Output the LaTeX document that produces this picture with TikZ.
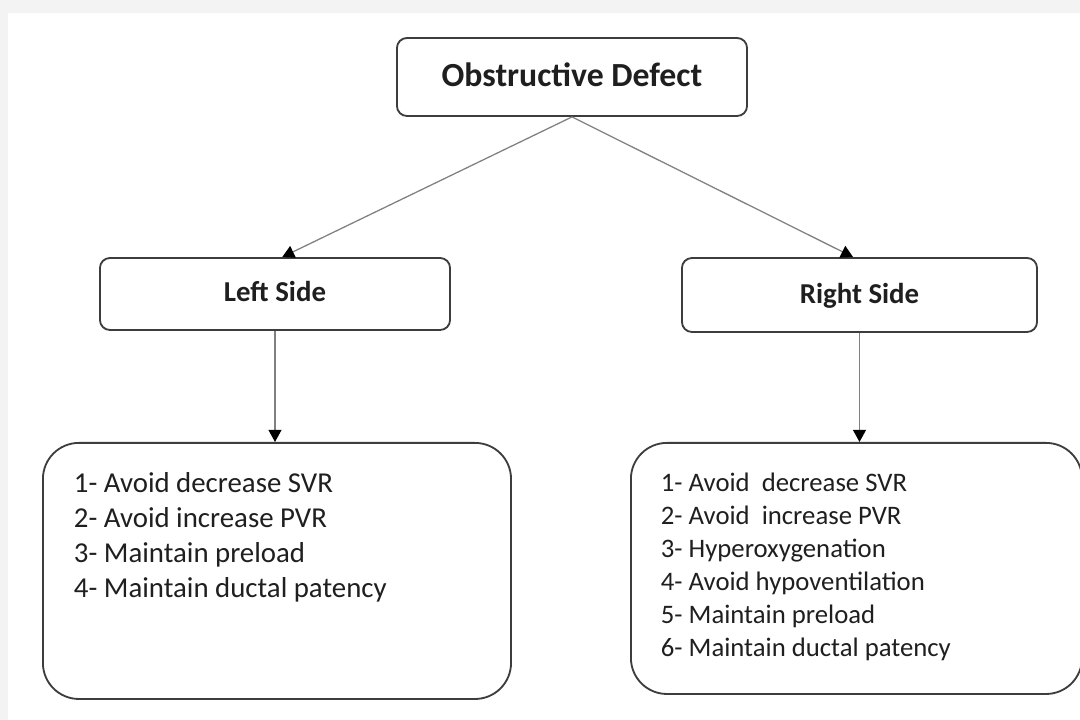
\documentclass[tikz,border=0pt]{standalone}
\usepackage{fontspec}
\setmainfont{Carlito}
\usetikzlibrary{arrows.meta}

\definecolor{FrameColor}{rgb}{0.953,0.953,0.953}
\definecolor{BorderColor}{rgb}{0.24,0.24,0.24}
\definecolor{LinkColor}{rgb}{0.5,0.5,0.5}
\definecolor{TextColor}{rgb}{0.12,0.12,0.12}
\tikzstyle{base}=[rectangle,
                    draw=BorderColor,
                    line width=1.3pt,
                    fill=white,
                    text=TextColor,
                    rounded corners=0.25cm]
\tikzstyle{heading}=[base, text depth=0.3em, font=\bfseries\fontsize{20.5}{24}\selectfont]
\tikzstyle{listing}=[base, anchor=north west, rounded corners=0.9cm]
\tikzstyle{link}=[draw=LinkColor, line width=0.9pt,
                    -{Triangle[width=0.32cm, length=0.3cm, color=black]}]

\begin{document}
\begin{tikzpicture}[x=0.025cm, y=-0.025cm]
    \useasboundingbox (0,0) rectangle (1080,720);
    \fill[FrameColor] (0,0)  rectangle (1080,720);
    \fill[white]      (8,13) rectangle (1080,720);

    \node at (572.0,  77) (defect)     [heading, minimum width=8.75cm, minimum height=1.95cm,
                                        font=\bfseries\fontsize{24}{28}\selectfont] {Obstructive Defect};
    \node at (275.0, 294) (left_side)  [heading, minimum width=8.75cm, minimum height=1.8cm]   {Left Side};
    \node at (859.5, 295) (right_side) [heading, minimum width=8.875cm, minimum height=1.85cm] {Right Side};
    \node at ( 42.0, 442) (left_list)  [listing, inner xsep=0.775cm, inner ysep=0.75cm,
                                        font=\fontsize{20.5}{24.9}\selectfont]
        {\begin{minipage}[t][4.9cm][t]{10.15cm}
         1- Avoid decrease SVR\\
         2- Avoid increase PVR\\
         3- Maintain preload\\
         4- Maintain ductal patency
         \end{minipage}};
    \node at (630.0, 442) (right_list) [listing, inner xsep=0.75cm, inner ysep=0.75cm,
                                        font=\fontsize{19}{23.5}\selectfont]
        {\begin{minipage}[t][4.775cm][t]{9.775cm}
         1- Avoid\ \ decrease SVR\\
         2- Avoid\ \ increase PVR\\
         3- Hyperoxygenation\\
         4- Avoid hypoventilation\\
         5- Maintain preload\\
         6- Maintain ductal patency
         \end{minipage}};

     \draw[link] (defect.south)     -- ([xshift=0.18cm]left_side.north);
     \draw[link] (defect.south)     -- ([xshift=-0.16cm]right_side.north);
     \draw[link] (left_side.south)  -- (left_side.south |- left_list.north);
     \draw[link] (right_side.south) -- (right_side.south |- right_list.north);
\end{tikzpicture}
\end{document}
